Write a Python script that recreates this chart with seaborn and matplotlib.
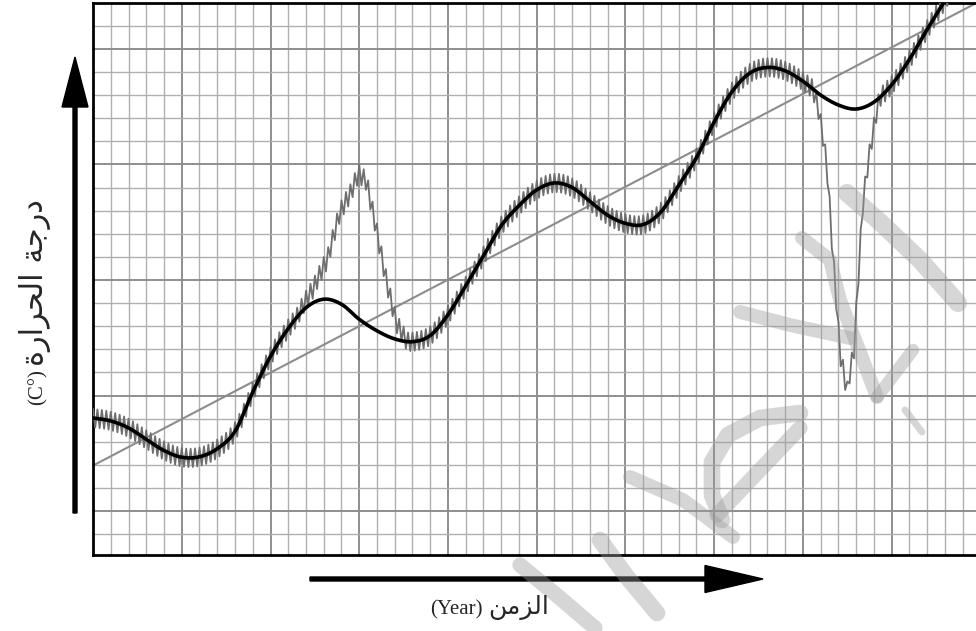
import numpy as np
import matplotlib
matplotlib.use("Agg")
import matplotlib.pyplot as plt
from matplotlib.patches import FancyArrow
import seaborn as sns

# ---------------- data (grid units) ----------------
years = list(range(0, 51))
temp_smooth = [6.03, 5.90, 5.60, 5.10, 4.62, 4.33, 4.35, 4.70, 5.45, 7.15,
               8.70, 9.90, 10.80, 11.17, 10.95, 10.30, 9.80, 9.45, 9.33, 9.60,
               10.50, 11.75, 13.05, 14.35, 15.22, 15.90, 16.20, 16.00, 15.40, 14.80,
               14.45, 14.40, 14.95, 16.10, 17.30, 18.85, 20.15, 20.95, 21.20, 21.05,
               20.60, 20.00, 19.57, 19.40, 19.70, 20.45, 21.55, 22.85, 24.10, 25.40,
               26.70]

# departures of the raw record from the smooth curve (spike and drop)
anomaly_x = [0.0, 11.5, 12.4, 13.2, 13.9, 14.5, 14.95, 15.4, 15.9, 16.55, 17.1, 17.7,
             40.56, 40.85, 41.13, 41.35, 41.52, 41.69, 41.92, 42.08, 42.37, 42.48,
             42.65, 42.87, 43.04, 43.21, 43.38, 43.66, 43.89, 44.17, 44.34, 50.0]
anomaly_dv = [0.0, 0.0, 0.6, 1.7, 3.9, 5.1, 6.3, 6.2, 4.6, 2.3, 0.7, 0.0,
              0.0, -0.6, -1.75, -2.95, -4.76, -6.7, -8.9, -10.7, -11.8, -12.35,
              -11.35, -10.45, -8.26, -6.1, -4.1, -2.5, -1.5, -0.4, 0.0, 0.0]
ripple_amp = 0.40      # short-term wiggle of the raw record
ripple_step = 0.125

trend_x = [0.0, 49.8]
trend_v = [3.97, 24.0]

xlabel_lat = "(Year)"
xlabel_ar = "\ufee6\ufee3\ufeb0\ufedf\ufe8d"                                   # الزمن
ylabel_lat = "(C\u00b0)"
ylabel_ar = "\ufe93\ufead\ufe8d\ufeae\ufea4\ufedf\ufe8d \ufe94\ufe9f\ufead\ufea9"  # درجة الحرارة


def smooth_curve(x, y, step):
    # cubic Hermite through the read points, for drawing a smooth line
    x = np.asarray(x, float)
    y = np.asarray(y, float)
    m = np.gradient(y, x)
    xs = np.arange(x[0], x[-1] + 1e-9, step)
    i = np.clip(np.searchsorted(x, xs, side="right") - 1, 0, len(x) - 2)
    h = x[i + 1] - x[i]
    t = (xs - x[i]) / h
    h00 = 2 * t**3 - 3 * t**2 + 1
    h10 = t**3 - 2 * t**2 + t
    h01 = -2 * t**3 + 3 * t**2
    h11 = t**3 - t**2
    ys = h00 * y[i] + h10 * h * m[i] + h01 * y[i + 1] + h11 * h * m[i + 1]
    return xs, ys


# ---------------- build series ----------------
u_fine, smooth_fine = smooth_curve(years, temp_smooth, ripple_step)
raw = smooth_fine + np.interp(u_fine, anomaly_x, anomaly_dv)
raw = raw + ripple_amp * np.where(np.arange(len(u_fine)) % 2 == 0, 1, -1)

# ---------------- figure ----------------
sns.set_style("white")
plt.rcParams["font.family"] = ["Liberation Serif", "DejaVu Sans"]

W, H = 976, 631
fig = plt.figure(figsize=(W / 100, H / 100), dpi=100)
left_px, right_px, top_px, bot_px = 93, 93 + 50 * 17.75, 2.7, 555
ax = fig.add_axes([left_px / W, 1 - bot_px / H, (right_px - left_px) / W, (bot_px - top_px) / H])

ax.set_xlim(0, 50)
ax.set_ylim(0.1, 24.0)

# graph-paper grid
for u in range(0, 51):
    major = u % 5 == 0
    ax.axvline(u, color="#8e8e8e" if major else "#b0b0b0", lw=1.4 if major else 1.0, zorder=0)
for v in range(1, 24):
    major = v % 5 == 2
    ax.axhline(v, color="#8e8e8e" if major else "#b0b0b0", lw=1.4 if major else 1.0, zorder=0)

sns.lineplot(x=trend_x, y=trend_v, ax=ax, color="#8c8c8c", lw=1.5, zorder=2)
sns.lineplot(x=u_fine, y=raw, ax=ax, color="#6e6e6e", lw=1.3, zorder=3)
sns.lineplot(x=u_fine, y=smooth_fine, ax=ax, color="black", lw=2.6, zorder=4)

ax.set_xticks([])
ax.set_yticks([])
ax.set_xlabel("")
ax.set_ylabel("")
for side in ["left", "top", "bottom"]:
    ax.spines[side].set_color("black")
    ax.spines[side].set_linewidth(2.0)
ax.spines["right"].set_visible(False)

# overlay in pixel coordinates for arrows, labels and watermark
ov = fig.add_axes([0, 0, 1, 1], zorder=5)
ov.set_xlim(0, W)
ov.set_ylim(H, 0)
ov.axis("off")
ov.patch.set_alpha(0)

ov.add_patch(FancyArrow(75, 513, 0, -456, width=4, head_width=26, head_length=50,
                        length_includes_head=True, color="black"))
ov.add_patch(FancyArrow(310, 579, 453, 0, width=4, head_width=27, head_length=58,
                        length_includes_head=True, color="black"))

ov.text(483, 614, xlabel_lat, ha="right", va="baseline", fontsize=15)
ov.text(488, 614, xlabel_ar, ha="left", va="baseline", fontsize=18, family="DejaVu Sans")
ov.text(43, 405, ylabel_lat, ha="left", va="baseline", fontsize=15, rotation=90,
        rotation_mode="anchor")
ov.text(43, 366, ylabel_ar, ha="left", va="baseline", fontsize=22, rotation=90,
        rotation_mode="anchor", family="DejaVu Sans")

# faint watermark strokes
wm = dict(color="#9a9a9a", alpha=0.4, solid_capstyle="round", zorder=1)
ov.plot([847, 880, 920, 958], [193, 222, 260, 303], lw=13, **wm)
ov.plot([802, 830, 840, 877], [238, 260, 300, 397], lw=10, **wm)
ov.plot([877, 913], [397, 350], lw=9, **wm)
ov.plot([740, 790, 850], [312, 325, 338], lw=10, **wm)
ov.plot([905, 922], [410, 432], lw=5, **wm)
ov.plot([800, 760, 728, 712, 712, 722], [413, 418, 435, 462, 495, 520], lw=12, **wm)
ov.plot([800, 760, 717], [428, 470, 515], lw=11, **wm)
ov.plot([630, 683, 733], [477, 500, 537], lw=10, **wm)
ov.plot([600, 627, 657], [540, 577, 613], lw=12, **wm)
ov.plot([520, 560, 595], [565, 598, 628], lw=11, **wm)

fig.savefig("out.png", dpi=100)
